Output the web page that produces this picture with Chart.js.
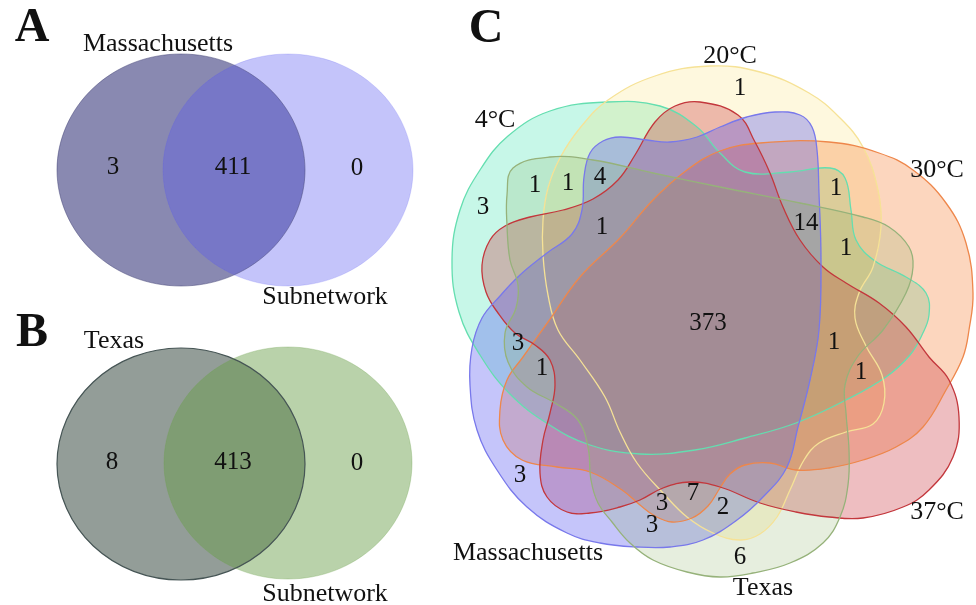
<!DOCTYPE html>
<html>
<head>
<meta charset="utf-8">
<script src="https://cdn.jsdelivr.net/npm/chart.js@4.4.1/dist/chart.umd.min.js"></script>
<style>
  html, body { margin: 0; background: #fff; }
  #wrap { width: 976px; height: 605px; position: relative; }
</style>
</head>
<body>
<div id="wrap"><canvas id="venn"></canvas></div>
<script>
// ---- data ----
// panel A: Massachusetts vs Subnetwork -> [only left, both, only right]
const setsA = ["Massachusetts", "Subnetwork"];
const countsA = [3, 411, 0];
// panel B: Texas vs Subnetwork
const setsB = ["Texas", "Subnetwork"];
const countsB = [8, 413, 0];
// panel C: six sets, one count per labelled region
const setsC = ["4°C", "20°C", "30°C", "37°C", "Massachusetts", "Texas"];
const countsC = [1, 3, 1, 1, 4, 1, 14, 1, 1, 373, 3, 1, 1, 1, 3, 3, 7, 2, 3, 6];

// ---- layout (figure units = pixels of the 976x605 figure) ----
const panelTitles = [["A", 32, 29], ["B", 32, 334], ["C", 486, 30]];
const setLabelPosA = [[158, 44], [325, 297]];
const countPosA = [[113, 167], [233, 167], [357, 168]];
const setLabelPosB = [[114, 341], [325, 594]];
const countPosB = [[112, 462], [233, 462], [357, 463]];
const setLabelPosC = [[495, 120], [730, 56], [937, 170], [937, 512], [528, 553], [763, 588]];
const countPosC = [
  [740, 88], [483, 207], [535, 185], [568, 183], [600, 177], [602, 227],
  [806, 223], [836, 188], [846, 248], [708, 323], [518, 343], [542, 368],
  [834, 342], [861, 372], [520, 475], [662, 503], [693, 493], [723, 507],
  [652, 525], [740, 557],
];

function ellipse(cx, cy, rx, ry) {
  const k = Math.SQRT1_2;
  return [[cx + rx, cy], [cx + rx * k, cy + ry * k], [cx, cy + ry], [cx - rx * k, cy + ry * k],
          [cx - rx, cy], [cx - rx * k, cy - ry * k], [cx, cy - ry], [cx + rx * k, cy - ry * k]];
}

// outline control points of the six-set shapes
const outlinesC = [
  // 4°C
  [[607,102],[660,106],[697,127],[720,153],[745,172],[790,172],[830,168],[845,178],[851,210],[856,240],
   [875,261],[906,277],[926,293],[929,315],[922,335],[910,355],[886,377],[846,400],[796,423],[745,438],
   [695,450],[640,454],[590,445],[548,424],[510,394],[480,355],[459,312],[452,260],[460,210],[480,170],
   [508,136],[550,111]],
  // 20°C
  [[710,66],[760,72],[809,93],[839,117],[863,147],[878,190],[881,227],[873,267],[859,293],[855,318],
   [866,346],[882,375],[884,403],[873,424],[846,432],[819,443],[804,460],[790,490],[777,517],[760,534],
   [740,540],[713,533],[687,517],[663,493],[637,463],[620,432],[605,397],[580,360],[558,330],[548,295],
   [543,255],[543,220],[548,188],[560,158],[580,128],[608,100],[655,76]],
  // 30°C
  [[760,143],[829,142],[879,153],[913,170],[946,203],[966,243],[973,293],[969,330],[963,357],[946,390],
   [923,427],[896,447],[863,460],[829,468],[796,470],[770,463],[745,465],[730,474],[720,488],[708,506],
   [692,518],[672,522],[655,516],[640,505],[622,490],[590,472],[557,467],[522,460],[503,440],[500,410],
   [507,380],[523,357],[548,322],[580,277],[620,238],[653,200],[687,170],[720,151]],
  // 37°C
  [[700,102],[738,115],[755,142],[770,173],[783,207],[800,240],[823,267],[846,283],[879,303],[906,327],
   [929,357],[949,380],[959,417],[953,457],[929,490],[903,507],[863,518],[829,517],[796,512],[760,503],
   [720,487],[690,482],[663,488],[640,500],[620,507],[590,513],[567,512],[547,497],[540,473],[543,440],
   [550,413],[555,385],[550,360],[535,345],[515,333],[498,313],[486,292],[482,265],[490,240],[505,226],
   [530,217],[563,210],[593,199],[618,180],[635,155],[655,122],[675,106]],
  // Massachusetts
  [[620,137],[647,140],[670,142],[697,137],[720,127],[747,117],[775,112],[800,115],[812,127],[817,150],
   [819,193],[821,260],[819,330],[810,380],[798,427],[787,467],[763,497],[737,520],[703,540],[670,547],
   [637,547],[600,543],[567,533],[527,507],[497,470],[477,430],[470,385],[472,348],[482,318],[500,296],
   [520,275],[547,253],[572,234],[582,210],[584,177],[590,153],[603,141]],
  // Texas
  [[513,168],[550,157],[593,160],[653,173],[720,187],[800,203],[863,217],[889,227],[909,247],[913,267],
   [906,293],[883,330],[858,356],[845,385],[846,413],[849,450],[848,485],[840,517],[823,543],[790,563],
   [753,573],[720,577],[687,572],[653,560],[630,543],[612,522],[598,503],[591,480],[588,447],[578,420],
   [555,403],[527,387],[508,362],[505,333],[516,308],[518,285],[510,260],[507,225],[507,195]],
];

const fillC = ["rgba(0,220,150,0.22)", "rgba(250,220,90,0.2)", "rgba(245,120,40,0.3)",
               "rgba(200,40,50,0.3)", "rgba(90,90,240,0.35)", "rgba(130,170,90,0.2)"];
const lineC = ["rgb(100,222,176)", "rgb(246,226,150)", "rgb(238,135,75)",
               "rgb(195,55,60)", "rgb(120,120,235)", "rgb(150,178,122)"];

const shapes = [
  { pts: ellipse(181, 170, 124, 116), fill: "rgba(20,20,100,0.5)", line: "rgba(70,70,120,0.5)", w: 1, t: 0.375 },
  { pts: ellipse(288, 170, 125, 116), fill: "rgba(86,86,240,0.35)", line: "rgba(86,86,240,0.2)", w: 1, t: 0.375 },
  { pts: ellipse(181, 464, 124, 116), fill: "rgba(40,60,50,0.5)", line: "rgb(70,85,85)", w: 1.2, t: 0.375 },
  { pts: ellipse(288, 463, 124, 116), fill: "rgba(106,160,74,0.47)", line: "rgba(106,160,74,0.3)", w: 1, t: 0.375 },
];
outlinesC.forEach((pts, i) => shapes.push({ pts, fill: fillC[i], line: lineC[i], w: 1.3, t: 0.4 }));

const datasets = shapes.map((s, i) => ({
  label: i < 4 ? "" : setsC[i - 4],
  data: s.pts.map(([x, y]) => ({ x, y })),
  backgroundColor: s.fill,
  borderColor: s.line,
  borderWidth: s.w,
  tension: s.t,
  fill: "shape",
  pointRadius: 0,
  order: shapes.length - i,
}));

// make every outline a closed smooth loop
const closeShapes = {
  id: "closeShapes",
  afterDatasetsUpdate(chart) {
    chart.getSortedVisibleDatasetMetas().forEach((meta) => {
      const line = meta.dataset;
      line._loop = true;
      line._fullLoop = true;
      line._pointsUpdated = false;
      delete line._segments;
      delete line._path;
    });
  },
};

const SERIF = "'Liberation Serif', 'Times New Roman', 'DejaVu Serif', serif";

const vennText = {
  id: "vennText",
  afterDatasetsDraw(chart) {
    const { ctx, scales: { x, y } } = chart;
    const put = (txt, pos, font) => {
      ctx.font = font;
      ctx.fillText(String(txt), x.getPixelForValue(pos[0]), y.getPixelForValue(pos[1]));
    };
    ctx.save();
    ctx.fillStyle = "#111";
    ctx.textAlign = "center";
    ctx.textBaseline = "middle";
    panelTitles.forEach(([t, px, py]) => put(t, [px, py], "bold 48px " + SERIF));
    setsA.forEach((s, i) => put(s, setLabelPosA[i], "26px " + SERIF));
    countsA.forEach((c, i) => put(c, countPosA[i], "25px " + SERIF));
    setsB.forEach((s, i) => put(s, setLabelPosB[i], "26px " + SERIF));
    countsB.forEach((c, i) => put(c, countPosB[i], "25px " + SERIF));
    setsC.forEach((s, i) => put(s, setLabelPosC[i], "26px " + SERIF));
    countsC.forEach((c, i) => put(c, countPosC[i], "25px " + SERIF));
    ctx.restore();
  },
};

new Chart(document.getElementById("venn"), {
  type: "line",
  data: { datasets },
  options: {
    responsive: true,
    maintainAspectRatio: false,
    animation: false,
    events: [],
    layout: { padding: 0 },
    scales: {
      x: { type: "linear", min: 0, max: 976, display: false },
      y: { type: "linear", min: 0, max: 605, reverse: true, display: false },
    },
    elements: { line: { capBezierPoints: false } },
    plugins: {
      legend: { display: false },
      tooltip: { enabled: false },
      filler: { drawTime: "beforeDatasetsDraw" },
    },
  },
  plugins: [closeShapes, vennText],
});
</script>
</body>
</html>
